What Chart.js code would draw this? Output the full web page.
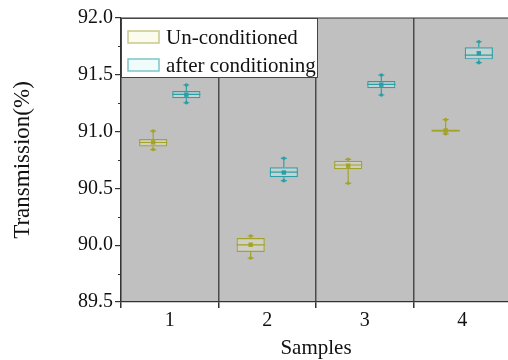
<!DOCTYPE html>
<html>
<head>
<meta charset="utf-8">
<script src="https://cdn.jsdelivr.net/npm/chart.js@4/dist/chart.umd.min.js"></script>
<style>
html,body{margin:0;padding:0;overflow:hidden;background:#fff;width:508px;height:360px;}
canvas{display:block;}
</style>
</head>
<body>
<canvas id="c" width="511" height="360"></canvas>
<script>
const categories = ['1','2','3','4'];
const seriesNames = ['Un-conditioned','after conditioning'];
// Un-conditioned
const unQ1   = [90.869, 89.940, 90.668, 90.998];
const unQ3   = [90.935, 90.063, 90.744, 91.018];
const unMed  = [90.904, 90.002, 90.706, 91.008];
const unMean = [90.905, 90.004, 90.700, 91.010];
const unMin  = [90.842, 89.887, 90.545, 90.980];
const unMax  = [91.005, 90.081, 90.756, 91.105];
// after conditioning
const afQ1   = [91.293, 90.598, 91.381, 91.636];
const afQ3   = [91.357, 90.686, 91.445, 91.742];
const afMed  = [91.327, 90.644, 91.415, 91.674];
const afMean = [91.325, 90.640, 91.413, 91.690];
const afMin  = [91.254, 90.568, 91.322, 91.607];
const afMax  = [91.410, 90.765, 91.498, 91.791];
const yTicksMajor = [89.5, 90.0, 90.5, 91.0, 91.5, 92.0];

const stats = [
  {q1:unQ1,q3:unQ3,med:unMed,mean:unMean,min:unMin,max:unMax},
  {q1:afQ1,q3:afQ3,med:afMed,mean:afMean,min:afMin,max:afMax}
];
const lineColors = ['#a3a32a','#2aa0a6'];
const fillColors = ['rgba(235,235,200,0.35)','rgba(210,240,240,0.35)'];
const legendStroke = ['#c9c98a','#7cc6c9'];
const legendFill = ['#fbfbee','#f0fbfb'];
const FONT = "'Liberation Serif','Times New Roman',serif";

const bgPlugin = {
  id:'bg',
  beforeDraw(chart){
    const {ctx, chartArea:a} = chart;
    ctx.save();
    ctx.fillStyle = '#c0c0c0';
    ctx.fillRect(a.left, a.top, a.right-a.left, a.bottom-a.top);
    ctx.restore();
  }
};

const boxPlugin = {
  id:'boxes',
  afterDatasetsDraw(chart){
    const ctx = chart.ctx, y = chart.scales.y;
    stats.forEach((s, di) => {
      const meta = chart.getDatasetMeta(di);
      meta.data.forEach((el, j) => {
        const x = el.x, w = el.width;
        const pTop = y.getPixelForValue(s.q3[j]);
        const pBot = y.getPixelForValue(s.q1[j]);
        const pMax = y.getPixelForValue(s.max[j]);
        const pMin = y.getPixelForValue(s.min[j]);
        const pMed = y.getPixelForValue(s.med[j]);
        const pMean = y.getPixelForValue(s.mean[j]);
        ctx.save();
        ctx.strokeStyle = lineColors[di];
        ctx.fillStyle = lineColors[di];
        ctx.lineWidth = 1.2;
        ctx.beginPath();
        ctx.moveTo(x, pTop); ctx.lineTo(x, pMax);
        ctx.moveTo(x, pBot); ctx.lineTo(x, pMin);
        ctx.moveTo(x-3, pMax); ctx.lineTo(x+3, pMax);
        ctx.moveTo(x-3, pMin); ctx.lineTo(x+3, pMin);
        ctx.moveTo(x-w/2, pMed); ctx.lineTo(x+w/2, pMed);
        ctx.stroke();
        [pMax, pMin].forEach(p => {
          ctx.beginPath(); ctx.arc(x, p, 1.8, 0, Math.PI*2); ctx.fill();
        });
        ctx.fillRect(x-2.2, pMean-2.2, 4.4, 4.4);
        ctx.restore();
      });
    });
  }
};

const framePlugin = {
  id:'frame',
  afterDraw(chart){
    const {ctx, chartArea:a} = chart, y = chart.scales.y;
    ctx.save();
    ctx.strokeStyle = '#333';
    ctx.lineWidth = 1.2;
    ctx.beginPath();
    ctx.moveTo(a.left, a.top); ctx.lineTo(a.right, a.top);
    for (let i = 0; i < yTicksMajor.length-1; i++) {
      const v = (yTicksMajor[i] + yTicksMajor[i+1]) / 2;
      const p = Math.round(y.getPixelForValue(v)) + 0.5;
      ctx.moveTo(a.left-3, p); ctx.lineTo(a.left, p);
    }
    ctx.stroke();
    const L = a.left, T = a.top, R = 318, B = 77;
    ctx.fillStyle = '#ffffff';
    ctx.fillRect(L, T, R-L, B-T);
    ctx.strokeStyle = '#444';
    ctx.lineWidth = 1;
    ctx.strokeRect(L+0.5, T+0.5, R-L-1, B-T);
    const rows = [37, 65];
    chart.data.datasets.forEach((ds, i) => {
      ctx.fillStyle = legendFill[i];
      ctx.fillRect(128, rows[i]-6, 31, 12);
      ctx.strokeStyle = legendStroke[i];
      ctx.lineWidth = 1.5;
      ctx.strokeRect(128, rows[i]-6, 31, 12);
      ctx.fillStyle = '#111';
      ctx.font = '21px ' + FONT;
      ctx.textBaseline = 'middle';
      ctx.textAlign = 'left';
      ctx.fillText(ds.label, 166, rows[i]+1);
    });
    ctx.restore();
  }
};

new Chart(document.getElementById('c'), {
  type:'bar',
  data:{
    labels: categories,
    datasets: stats.map((s, i) => ({
      label: seriesNames[i],
      data: s.q1.map((v, j) => [v, s.q3[j]]),
      backgroundColor: fillColors[i],
      borderColor: lineColors[i],
      borderWidth: 1.2,
      borderSkipped: false,
      categoryPercentage: 0.68,
      barPercentage: 0.85
    }))
  },
  options:{
    responsive:false,
    animation:false,
    layout:{padding:{top:18,left:0,right:0,bottom:0}},
    plugins:{legend:{display:false}, tooltip:{enabled:false}},
    scales:{
      x:{
        offset:true,
        grid:{offset:true, drawOnChartArea:true, color:'#4a4a4a', lineWidth:1.5, tickLength:6, tickColor:'#333'},
        border:{color:'#333', width:1.2},
        ticks:{color:'#111', font:{family:FONT, size:20}, padding:1},
        title:{display:true, text:'Samples', color:'#111', font:{family:FONT, size:21}, padding:{top:0, bottom:-1}},
        afterFit(s){ s.height = 58; }
      },
      y:{
        min:89.5, max:92.0,
        afterBuildTicks(s){ s.ticks = yTicksMajor.map(v => ({value:v})); },
        grid:{drawOnChartArea:false, tickLength:6, tickColor:'#333', lineWidth:1.2},
        border:{color:'#333', width:1.2},
        ticks:{color:'#111', font:{family:FONT, size:20}, padding:2, callback:v => Number(v).toFixed(1)},
        title:{display:true, text:'Transmission(%)', color:'#111', font:{family:FONT, size:23}, padding:{top:9, bottom:0}},
        afterFit(s){ s.width = 121; }
      }
    }
  },
  plugins:[bgPlugin, boxPlugin, framePlugin]
});
</script>
</body>
</html>
